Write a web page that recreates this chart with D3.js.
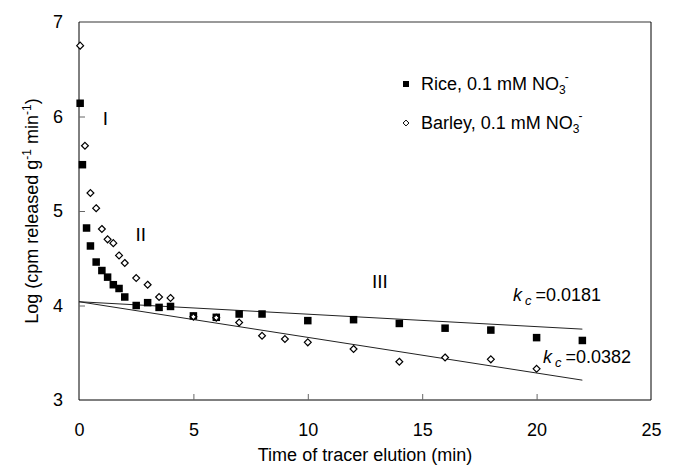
<!DOCTYPE html>
<html><head><meta charset="utf-8">
<script src="https://cdn.jsdelivr.net/npm/d3@7"></script>
<style>body{margin:0;background:#fff}svg{display:block;font-family:"Liberation Sans",Arial,sans-serif}</style>
</head><body><svg id="c" width="673" height="467"></svg>
<script>
const riceT = [0.05,0.15,0.33,0.5,0.75,1.0,1.25,1.5,1.75,2.0,2.5,3,3.5,4,5,6,7,8,10,12,14,16,18,20,22];
const riceV = [6.14,5.49,4.82,4.63,4.46,4.37,4.30,4.22,4.18,4.09,4.00,4.03,3.98,3.99,3.89,3.875,3.91,3.91,3.84,3.85,3.81,3.76,3.74,3.66,3.63];
const barleyT = [0.05,0.26,0.5,0.75,1.0,1.25,1.5,1.75,2.0,2.5,3,3.5,4,5,6,7,8,9,10,12,14,16,18,20];
const barleyV = [6.75,5.69,5.19,5.03,4.81,4.70,4.66,4.53,4.45,4.29,4.22,4.09,4.08,3.88,3.87,3.82,3.68,3.645,3.61,3.54,3.405,3.45,3.43,3.33];
const riceFit = [[0,4.04],[22,3.75]];
const barleyFit = [[0,4.04],[22,3.21]];
const xTicks = [0,5,10,15,20,25];
const yTicks = [3,4,5,6,7];

const FONT = "Liberation Sans, Arial, sans-serif";
const svg = d3.select("#c");
const L=79,R=651,T=22,B=400;
const x = d3.scaleLinear().domain([0,25]).range([L,R]);
const y = d3.scaleLinear().domain([3,7]).range([B,T]);

// frame
svg.append("line").attr("x1",L).attr("x2",R).attr("y1",T).attr("y2",T).attr("stroke","#777").attr("stroke-width",1.5);
svg.append("line").attr("x1",R).attr("x2",R).attr("y1",T).attr("y2",B).attr("stroke","#000");
svg.append("line").attr("x1",L).attr("x2",R).attr("y1",B).attr("y2",B).attr("stroke","#000");
svg.append("line").attr("x1",L).attr("x2",L).attr("y1",T).attr("y2",B).attr("stroke","#000");

// ticks (inward)
const xa = svg.append("g").attr("transform",`translate(0,${B})`)
  .call(d3.axisBottom(x).tickValues(xTicks).tickFormat(d3.format("d")).tickSizeInner(-6).tickSizeOuter(0).tickPadding(23));
xa.select(".domain").remove();
xa.selectAll(".tick line").attr("stroke","#666").filter(d=>d===0||d===25).remove();
xa.selectAll("text").attr("font-size",18).attr("font-family",FONT).attr("fill","#000");
const ya = svg.append("g").attr("transform",`translate(${L},0)`)
  .call(d3.axisLeft(y).tickValues(yTicks).tickFormat(d3.format("d")).tickSizeInner(-6).tickSizeOuter(0).tickPadding(16));
ya.select(".domain").remove();
ya.selectAll(".tick line").attr("stroke","#666").filter(d=>d===3||d===7).remove();
ya.selectAll("text").attr("font-size",18).attr("font-family",FONT).attr("fill","#000");

// fit lines
const line = d3.line().x(d=>x(d[0])).y(d=>y(d[1]));
svg.append("path").attr("d",line(riceFit)).attr("stroke","#222").attr("fill","none").attr("stroke-width",1);
svg.append("path").attr("d",line(barleyFit)).attr("stroke","#222").attr("fill","none").attr("stroke-width",1);

// barley diamonds
const dia = d3.symbol().type(d3.symbolDiamond2).size(30);
svg.append("g").selectAll("path").data(barleyT.map((t,i)=>[t,barleyV[i]])).join("path")
  .attr("d",dia).attr("transform",d=>`translate(${x(d[0])},${y(d[1])})`)
  .attr("fill","#fff").attr("stroke","#000").attr("stroke-width",1.2);
// rice squares
svg.append("g").selectAll("rect").data(riceT.map((t,i)=>[t,riceV[i]])).join("rect")
  .attr("x",d=>x(d[0])-3.75).attr("y",d=>y(d[1])-3.75).attr("width",7.5).attr("height",7.5).attr("fill","#000");
// diamonds visible inside squares where they overlap
svg.append("g").selectAll("path").data(barleyT.map((t,i)=>[t,barleyV[i]]).filter(d=>d[0]===5||d[0]===6)).join("path")
  .attr("d",d3.symbol().type(d3.symbolDiamond2).size(16)).attr("transform",d=>`translate(${x(d[0])},${y(d[1])})`)
  .attr("fill","#fff").attr("stroke","#000").attr("stroke-width",0.8);

// phase labels
const lab = (t,v,s)=>svg.append("text").attr("x",x(t)).attr("y",y(v)).attr("text-anchor","middle")
  .attr("dominant-baseline","central").attr("font-size",19).attr("font-family",FONT).text(s);
lab(1.15,5.98,"I"); lab(2.7,4.75,"II"); lab(13.15,4.25,"III");

// kc labels
function kc(px,py,val){
  const t=svg.append("text").attr("x",px).attr("y",py).attr("font-size",18).attr("font-family",FONT);
  t.append("tspan").attr("font-style","italic").text("k");
  t.append("tspan").attr("font-style","italic").attr("font-size",13).attr("dy",4).attr("dx",3).text("c");
  t.append("tspan").attr("dy",-4).attr("dx",4).text("=" + val);
}
kc(513,301,"0.0181");
kc(543,363,"0.0382");

// legend
const lg = svg.append("g");
lg.append("rect").attr("x",403).attr("y",81).attr("width",6).attr("height",6).attr("fill","#000");
lg.append("path").attr("d",d3.symbol().type(d3.symbolDiamond2).size(22)).attr("transform","translate(406,123)")
  .attr("fill","#fff").attr("stroke","#000").attr("stroke-width",1);
function legText(py,s){
  const t=lg.append("text").attr("x",421).attr("y",py).attr("font-size",18).attr("font-family",FONT);
  t.append("tspan").text(s+", 0.1 mM NO");
  t.append("tspan").attr("font-size",12).attr("dy",4).text("3");
  t.append("tspan").attr("font-size",12).attr("dy",-13).attr("dx",-1).text("-");
}
legText(90,"Rice"); legText(129,"Barley");

// axis titles
svg.append("text").attr("x",365).attr("y",461).attr("text-anchor","middle").attr("font-size",18)
  .attr("font-family",FONT).text("Time of tracer elution (min)");
const yt = svg.append("text").attr("transform","translate(38,211) rotate(-90)").attr("text-anchor","middle")
  .attr("font-size",18).attr("font-family",FONT);
yt.append("tspan").text("Log (cpm released g");
yt.append("tspan").attr("font-size",12).attr("dy",-7).text("-1");
yt.append("tspan").attr("dy",7).text(" min");
yt.append("tspan").attr("font-size",12).attr("dy",-7).text("-1");
yt.append("tspan").attr("dy",7).text(")");
</script></body></html>
